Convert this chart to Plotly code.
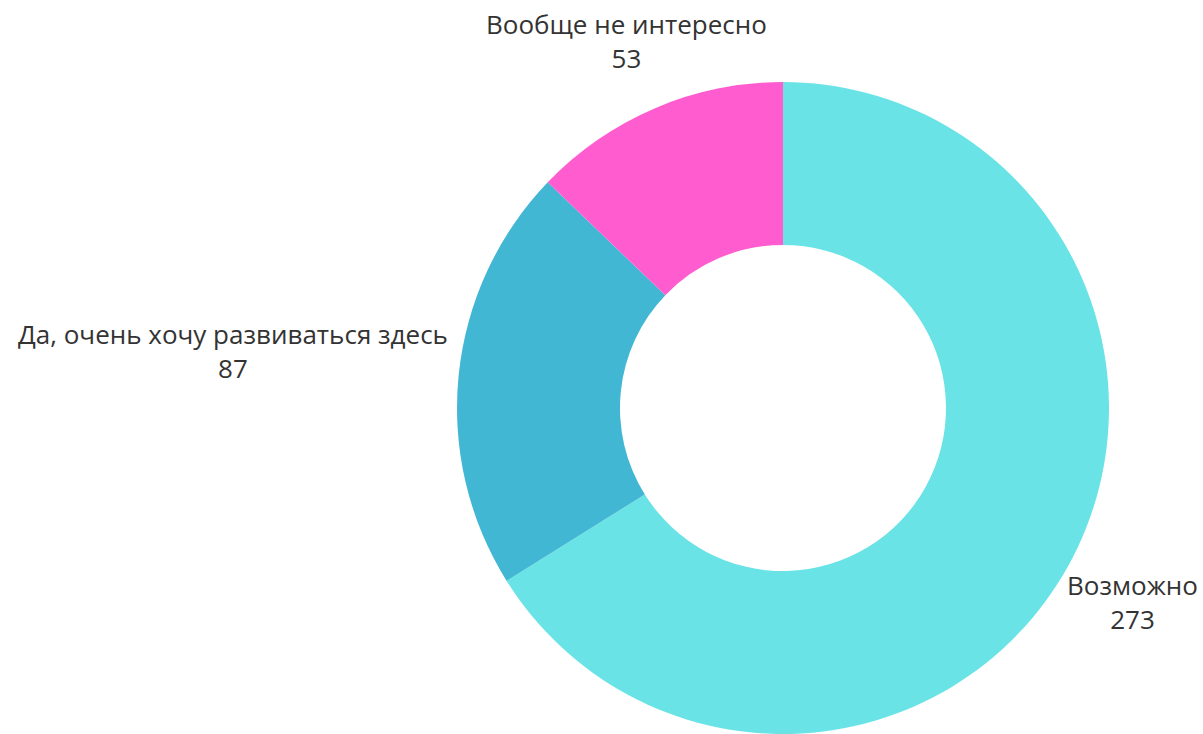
import math
import plotly.graph_objects as go

labels = ["Возможно", "Да, очень хочу развиваться здесь", "Вообще не интересно"]
values = [273, 87, 53]
colors = ["#6AE3E6", "#42B7D4", "#FF5CD0"]

W, H = 1203, 734
cx, cy, r = 783, 408, 326
FONT = "Open Sans"
FS = 26

fig = go.Figure(go.Pie(
    labels=labels,
    values=values,
    hole=0.5,
    sort=False,
    direction="clockwise",
    rotation=0,
    marker=dict(colors=colors, line=dict(width=0)),
    textinfo="none",
    domain=dict(x=[(cx - r) / W, (cx + r) / W], y=[(H - cy - r) / H, (H - cy + r) / H]),
    showlegend=False,
    hoverinfo="label+value+percent",
))

# outside labels placed along each slice's mid angle
total = sum(values)
acc = 0
for lab, val in zip(labels, values):
    mid = (acc + val / 2) / total * 2 * math.pi
    acc += val
    dx, dy = math.sin(mid), -math.cos(mid)
    hw = 0.515 * FS * len(lab) / 2
    hh = 1.3 * FS
    t = min(hw / max(abs(dx), 1e-6), hh / max(abs(dy), 1e-6))
    R = max(1.225 * r, r + 12 + t)
    px, py = cx + dx * R, cy + dy * R
    fig.add_annotation(
        x=px / W, y=1 - py / H, xref="paper", yref="paper",
        text=f"{lab}<br>{val}", showarrow=False,
        xanchor="center", yanchor="middle", align="center",
        font=dict(family=FONT, size=FS, color="#333333"),
    )

fig.update_layout(
    width=W, height=H,
    margin=dict(l=0, r=0, t=0, b=0),
    paper_bgcolor="white",
    plot_bgcolor="white",
    showlegend=False,
)

fig.write_html(
    "out.html",
    config={"displayModeBar": False},
    post_script="document.body.style.margin='0';document.body.style.overflow='hidden';",
)
